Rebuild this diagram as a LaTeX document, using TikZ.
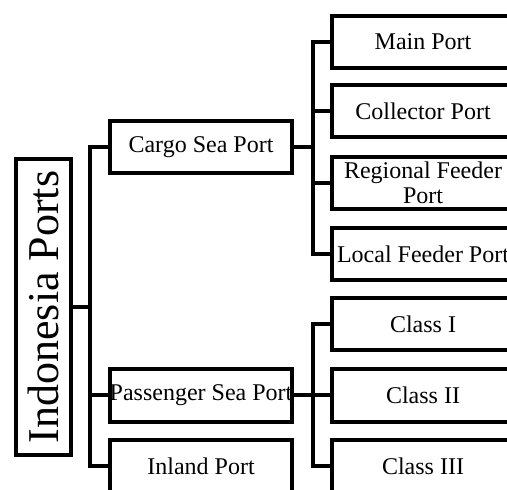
\documentclass[tikz,border=0pt]{standalone}
\usepackage{fontspec}
\setmainfont{Liberation Serif}

\begin{document}
\begin{tikzpicture}[
  x=0.5pt, y=-0.5pt,
  every node/.style={inner sep=0pt},
  rootbox/.style={draw, line width=2pt, rotate=90, minimum width=148pt, minimum height=27.5pt,
    font=\fontsize{22}{24}\selectfont},
  box/.style={draw, line width=2pt, minimum width=91pt, minimum height=26pt, align=center,
    font=\fontsize{12}{12.5}\selectfont},
  link/.style={draw, line width=2pt}]

  \clip (0,0) rectangle (507,490);

  \node[rootbox] (root) at (43.5, 307) {Indonesia Ports};

  \node[box] (cargo)     at (201, 147)   {Cargo Sea Port};
  \node[box] (passenger) at (201, 395.5) {Passenger Sea Port};
  \node[box] (inland)    at (201, 466)   {Inland Port};

  \node[box] (main)      at (423, 42)    {Main Port};
  \node[box] (collector) at (423, 111.5) {Collector Port};
  \node[box] (regional)  at (423, 183)   {Regional Feeder\\Port};
  \node[box] (local)     at (423, 254)   {Local Feeder Port};

  \node[box] (classI)    at (423, 324)   {Class I};
  \node[box] (classII)   at (423, 395.5) {Class II};
  \node[box] (classIII)  at (423, 466)   {Class III};

  \coordinate (ja) at (90, 0);
  \coordinate (jb) at (313, 0);

  % root to first level
  \draw[link] (root.south) -- (root.south -| ja);
  \draw[link] (cargo.west) -- (cargo.west -| ja) |- (inland.west);
  \draw[link] (passenger.west) -- (passenger.west -| ja);

  % cargo sea port
  \draw[link] (cargo.east) -- (cargo.east -| jb);
  \draw[link] (main.west) -- (main.west -| jb) |- (local.west);
  \draw[link] (collector.west) -- (collector.west -| jb);
  \draw[link] (regional.west) -- (regional.west -| jb);

  % passenger sea port
  \draw[link] (passenger.east) -- (passenger.east -| jb);
  \draw[link] (classI.west) -- (classI.west -| jb) |- (classIII.west);
  \draw[link] (classII.west) -- (classII.west -| jb);

\end{tikzpicture}
\end{document}
